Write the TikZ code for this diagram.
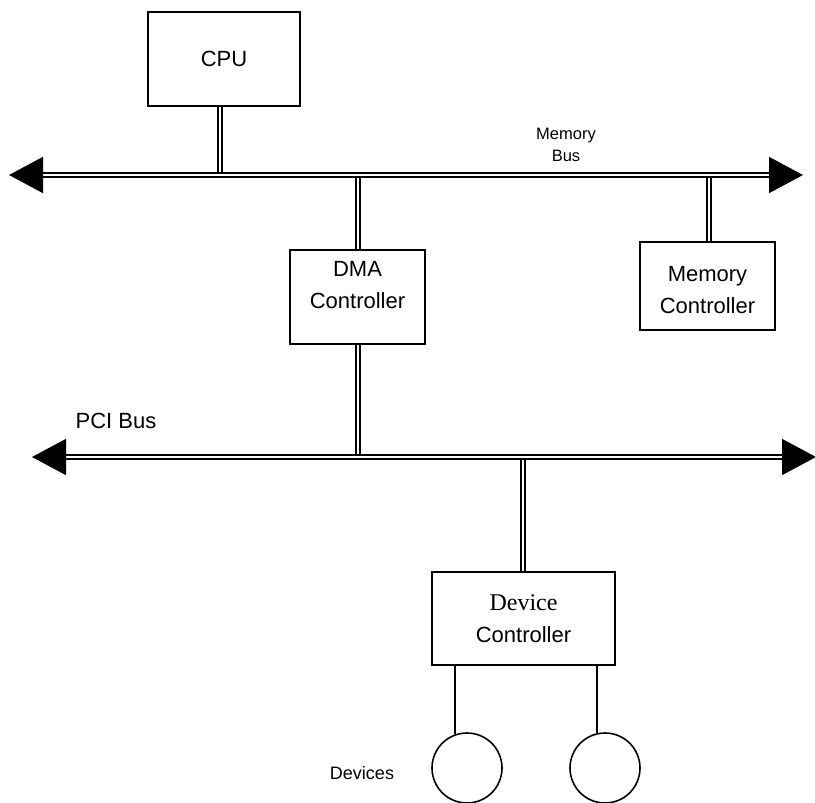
\documentclass[tikz,border=0pt]{standalone}
\usepackage{fontspec}
\setmainfont{Liberation Sans}
\newfontfamily\serifdev{Liberation Serif}
\usetikzlibrary{arrows.meta}
\begin{document}
\begin{tikzpicture}[x=1pt,y=-1pt,
  box/.style={draw,line width=1.8pt,inner sep=0pt,font=\fontsize{22}{32}\selectfont,align=center},
  link/.style={draw,line width=1.6pt,double,double distance=2.8pt},
  bus/.style={link,{Triangle[length=34pt,width=36pt]}-{Triangle[length=34pt,width=36pt]},shorten <=-1pt,shorten >=-1pt},
  wire/.style={draw,line width=1.6pt},
  dev/.style={circle,draw,line width=1.6pt,minimum size=70pt,inner sep=0pt}]
\useasboundingbox (0,0) rectangle (815,803);
% boxes
\node[box,minimum width=152pt,minimum height=94pt] (cpu) at (224,59) {CPU};
\node[box,minimum width=135pt,minimum height=94pt] (dma) at (357.5,297) {};
\node[font=\fontsize{22}{32}\selectfont,align=center] (dmat) at (357.5,285) {DMA\\Controller};
\node[box,minimum width=135pt,minimum height=88pt] (mem) at (707.5,286) {};
\node[font=\fontsize{22}{32}\selectfont,align=center] (memt) at (707.5,290) {Memory\\Controller};
\node[box,minimum width=183pt,minimum height=93pt] (dev) at (523.5,618.5) {{\serifdev\fontsize{24}{32}\selectfont Device}\\Controller};
% bus ends
\coordinate (mbL) at (10,175);
\coordinate (mbR) at (802,175);
\coordinate (pbL) at (33,457);
\coordinate (pbR) at (815,457);
% taps
\coordinate (tcpu) at (220,175);
\coordinate (tdma) at (358,175);
\coordinate (tmem) at (709,175);
\coordinate (pdma) at (358,457);
\coordinate (pdev) at (523,457);
% connectors
\draw[link] (cpu.south -| tcpu) -- (tcpu);
\draw[link] (tdma) -- (dma.north -| tdma);
\draw[link] (tmem) -- (mem.north -| tmem);
\draw[link] (dma.south -| pdma) -- (pdma);
\draw[link] (pdev) -- (dev.north -| pdev);
\draw[bus] (mbL) -- (mbR);
\draw[bus] (pbL) -- (pbR);
% devices
\node[dev] (d1) at (467,768) {};
\node[dev] (d2) at (605,768) {};
\draw[wire] (d1.110 |- dev.south) -- (d1.110);
\draw[wire] (d2.103 |- dev.south) -- (d2.103);
% labels
\node[font=\fontsize{16.5}{22}\selectfont,align=center] (mbl) at (566,145) {Memory\\Bus};
\node[font=\fontsize{22}{26}\selectfont] (pbl) at (116,421) {PCI Bus};
\node[font=\fontsize{18}{22}\selectfont] (dvl) at (362,773) {Devices};
\end{tikzpicture}
\end{document}
